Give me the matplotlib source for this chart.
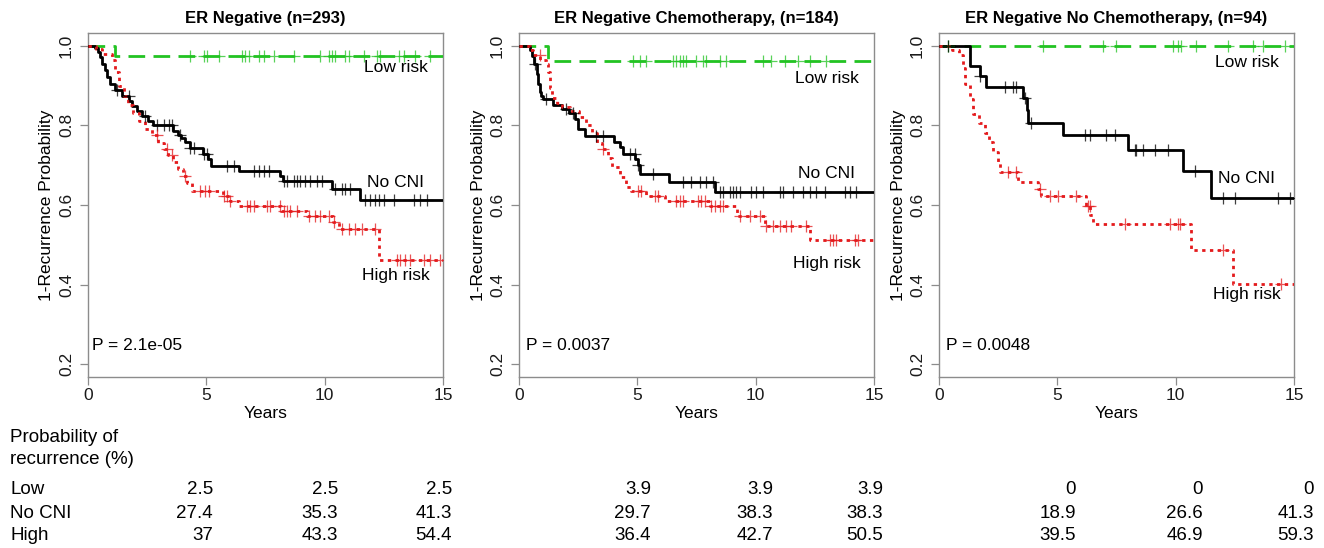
import numpy as np
import matplotlib
matplotlib.use("Agg")
import matplotlib.pyplot as plt

plt.rcParams['font.family'] = ['Liberation Sans', 'DejaVu Sans']

# ---- ER negative, all patients (n=293) ----
p1_low_t = [1.15]
p1_low_s = [0.975]
p1_low_cens = [4.32, 4.89, 5.03, 5.52, 6.51, 6.65, 6.79, 7.21, 7.42, 7.84, 8.69, 9.81,
               10.17, 10.31, 10.45, 10.87, 11.01, 11.65, 12.21, 12.35, 13.12, 13.34, 13.83, 14.46]
p1_cni_t = [0.3, 0.42, 0.5, 0.6, 0.7, 0.8, 0.95, 1.15, 1.45, 1.75, 1.85, 2.05, 2.3, 2.55, 2.75,
            3.6, 3.8, 3.95, 4.1, 4.3, 4.85, 5.05, 5.2, 6.4, 8.1, 8.25, 10.3, 11.5]
p1_cni_s = [0.994, 0.985, 0.972, 0.955, 0.94, 0.922, 0.905, 0.89, 0.873, 0.862, 0.848, 0.836,
            0.823, 0.811, 0.8, 0.787, 0.776, 0.768, 0.757, 0.742, 0.728, 0.715, 0.698, 0.686,
            0.673, 0.661, 0.64, 0.612]
p1_cni_cens = [1.23, 1.72, 2.42, 2.92, 3.2, 3.41, 3.55, 3.9, 4.32, 4.46, 4.89, 5.03, 5.87, 6.15,
               7.0, 7.21, 7.42, 7.63, 8.27, 8.41, 8.69, 8.83, 8.97, 9.18, 9.39, 9.68, 9.89,
               10.45, 10.73, 10.87, 11.08, 11.72, 11.93, 12.14, 12.28, 12.49, 12.92, 13.76,
               14.04, 14.32]
p1_high_t = [0.35, 0.6, 1.0, 1.15, 1.3, 1.5, 1.7, 1.9, 2.15, 2.4, 2.7, 2.95, 3.2, 3.4, 3.6, 3.8,
             4.0, 4.2, 4.4, 5.7, 6.0, 6.4, 8.15, 9.25, 10.35, 10.6, 12.3]
p1_high_s = [0.993, 0.98, 0.965, 0.935, 0.9, 0.875, 0.85, 0.83, 0.81, 0.79, 0.775, 0.755, 0.74,
             0.725, 0.708, 0.69, 0.672, 0.655, 0.636, 0.623, 0.611, 0.598, 0.586, 0.573, 0.557,
             0.54, 0.463]
p1_high_cens = [2.92, 3.34, 3.55, 4.11, 4.75, 4.96, 5.1, 5.73, 5.87, 6.01, 6.72, 6.86, 7.0, 7.56,
                7.7, 8.13, 8.27, 8.41, 8.55, 8.83, 9.32, 9.61, 9.81, 10.17, 10.38, 10.73, 11.01,
                11.3, 11.58, 12.14, 13.06, 13.2, 13.41, 13.62, 14.18, 14.46, 14.89]

# ---- ER negative, chemotherapy (n=184) ----
p2_low_t = [1.23]
p2_low_s = [0.961]
p2_low_cens = [4.82, 5.1, 5.38, 6.51, 6.65, 6.79, 6.93, 7.07, 7.49, 7.77, 7.92, 8.48, 8.76,
               10.31, 10.66, 11.23, 11.79, 12.28, 12.99]
p2_cni_t = [0.45, 0.55, 0.65, 0.75, 0.82, 0.88, 0.95, 1.0, 1.45, 1.8, 2.1, 2.35, 2.5, 2.8, 4.0,
            4.25, 4.4, 4.9, 5.03, 5.1, 6.35, 8.27]
p2_cni_s = [0.99, 0.975, 0.955, 0.93, 0.905, 0.885, 0.873, 0.865, 0.852, 0.84, 0.83, 0.815, 0.79,
            0.773, 0.757, 0.745, 0.728, 0.715, 0.7, 0.677, 0.657, 0.632]
p2_cni_cens = [0.66, 1.15, 2.0, 2.28, 3.27, 3.55, 4.68, 4.89, 5.03, 5.66, 6.93, 7.28, 7.63, 7.92,
               8.2, 8.48, 8.62, 8.9, 9.04, 9.18, 9.32, 9.82, 10.03, 10.31, 11.01, 11.15, 11.58,
               12.0, 12.28, 12.56, 12.92, 13.76, 13.97, 14.25]
p2_high_t = [0.45, 0.6, 0.9, 1.15, 1.22, 1.3, 1.4, 1.6, 1.8, 2.15, 2.55, 2.85, 3.1, 3.3, 3.5,
             3.75, 3.95, 4.25, 4.5, 4.75, 5.35, 6.15, 8.05, 9.2, 10.4, 12.28]
p2_high_s = [0.99, 0.978, 0.965, 0.955, 0.935, 0.895, 0.87, 0.855, 0.845, 0.835, 0.82, 0.8, 0.78,
             0.755, 0.74, 0.718, 0.695, 0.67, 0.645, 0.636, 0.623, 0.611, 0.598, 0.573, 0.548,
             0.511]
p2_high_cens = [0.87, 3.55, 5.03, 5.17, 5.73, 5.87, 6.65, 6.79, 6.93, 7.56, 7.7, 7.85, 8.13, 8.27,
                8.48, 8.62, 9.32, 9.75, 10.17, 10.45, 10.73, 11.01, 11.3, 11.51, 12.14, 13.13,
                13.27, 13.41, 14.18, 14.32]

# ---- ER negative, no chemotherapy (n=94) ----
p3_low_t = []
p3_low_s = []
p3_low_cens = [0.38, 4.39, 6.93, 7.49, 9.89, 10.1, 10.24, 10.87, 12.21, 13.27, 13.69, 14.61]
p3_cni_t = [1.3, 1.72, 2.0, 3.55, 3.7, 3.78, 5.22, 7.99, 10.31, 11.51]
p3_cni_s = [0.948, 0.923, 0.897, 0.869, 0.838, 0.807, 0.777, 0.738, 0.686, 0.617]
p3_cni_cens = [0.38, 1.72, 2.77, 3.13, 3.27, 3.62, 3.9, 6.15, 6.37, 7.07, 7.42, 8.27, 8.34, 8.62,
               9.11, 9.68, 10.8, 12.0, 12.49, 14.32, 14.82]
p3_high_t = [0.55, 0.85, 1.0, 1.1, 1.3, 1.45, 1.7, 1.95, 2.1, 2.3, 2.5, 2.58, 3.35, 4.2, 4.3, 6.2,
             6.4, 6.5, 10.65, 12.42]
p3_high_s = [0.99, 0.978, 0.945, 0.905, 0.865, 0.828, 0.805, 0.782, 0.757, 0.732, 0.707, 0.682,
             0.657, 0.64, 0.623, 0.598, 0.575, 0.5525, 0.486, 0.4025]
p3_high_cens = [2.92, 3.27, 4.25, 4.68, 5.03, 5.8, 6.3, 6.37, 7.85, 9.75, 10.1, 10.17, 12.0, 14.47]

titles = ["ER Negative (n=293)", "ER Negative Chemotherapy, (n=184)",
          "ER Negative No Chemotherapy, (n=94)"]
p_values = ["P = 2.1e-05", "P = 0.0037", "P = 0.0048"]

# probability of recurrence (%) at 5, 10, 15 years
row_names = ["Low", "No CNI", "High"]
rec_low = [[2.5, 2.5, 2.5], [3.9, 3.9, 3.9], [0, 0, 0]]
rec_cni = [[27.4, 35.3, 41.3], [29.7, 38.3, 38.3], [18.9, 26.6, 41.3]]
rec_high = [[37, 43.3, 54.4], [36.4, 42.7, 50.5], [39.5, 46.9, 59.3]]

GREEN = '#22c322'
RED = '#e41a1c'
BLACK = '#000000'
FRAME = '#8c8c8c'

W, H = 1324, 548
fig = plt.figure(figsize=(W / 100, H / 100), dpi=100)


def px(x, y):
    return x / W, 1 - y / H


def km(ax, t, s, cens, color, ls):
    tt = np.r_[0.0, t, 15.0]
    ss = np.r_[1.0, s, s[-1] if len(s) else 1.0]
    ax.step(tt, ss, where='post', color=color, ls=ls, lw=2.0, zorder=3)
    # censoring ticks sit on the curve
    idx = np.searchsorted(tt, cens, side='right') - 1
    ax.plot(cens, ss[idx], ls='none', marker='+', ms=9, mew=0.9, color=color,
            alpha=0.75, zorder=4)


curves = [
    [(p1_low_t, p1_low_s, p1_low_cens), (p1_cni_t, p1_cni_s, p1_cni_cens),
     (p1_high_t, p1_high_s, p1_high_cens)],
    [(p2_low_t, p2_low_s, p2_low_cens), (p2_cni_t, p2_cni_s, p2_cni_cens),
     (p2_high_t, p2_high_s, p2_high_cens)],
    [(p3_low_t, p3_low_s, p3_low_cens), (p3_cni_t, p3_cni_s, p3_cni_cens),
     (p3_high_t, p3_high_s, p3_high_cens)],
]
styles = [(GREEN, (0, (6, 3))), (BLACK, '-'), (RED, (0, (1.2, 1.6)))]

lefts = [88, 519, 939]
label_y = [(0.945, 0.6575, 0.4225), (0.9175, 0.68, 0.4525), (0.9575, 0.6675, 0.375)]
p_x = [0.17, 0.3, 0.3]
col_right = [[213, 338, 452], [651, 773, 883], [1076, 1203, 1314]]

for k in range(3):
    l = lefts[k]
    ax = fig.add_axes([l / W, 1 - 377 / H, 355 / W, 344 / H])
    for (t, s, c), (col, ls) in zip(curves[k], styles):
        km(ax, np.array(t), np.array(s), np.array(c), col, ls)
    ax.set_xlim(0, 15)
    ax.set_ylim(0.168, 1.032)
    ax.set_xticks([0, 5, 10, 15])
    ax.set_yticks([0.2, 0.4, 0.6, 0.8, 1.0])
    ax.set_yticklabels(['0.2', '0.4', '0.6', '0.8', '1.0'], rotation=90, va='center')
    ax.tick_params(length=6, width=0.9, color=FRAME, labelsize=12.5, labelcolor='#1a1a1a')
    ax.tick_params(axis='x', pad=2)
    ax.tick_params(axis='y', pad=4)
    for sp in ax.spines.values():
        sp.set_color(FRAME)
        sp.set_linewidth(1.0)

    ly = label_y[k]
    ax.text(13, ly[0], "Low risk", ha='center', va='center', fontsize=12.5)
    ax.text(13, ly[1], "No CNI", ha='center', va='center', fontsize=12.5)
    ax.text(13, ly[2], "High risk", ha='center', va='center', fontsize=12.5)
    ax.text(p_x[k], 0.2475, p_values[k], ha='left', va='center', fontsize=12.5)

    fig.text(*px(l + 177.5, 18), titles[k], ha='center', va='center',
             fontsize=12, fontweight='bold')
    fig.text(*px(l + 177.5, 414), "Years", ha='center', va='center', fontsize=12.5)
    fig.text(*px(l - 41, 205), "1-Recurrence Probability", ha='center', va='center',
             rotation=90, fontsize=12.5)

    for j in range(3):
        for vals, y in zip((rec_low, rec_cni, rec_high), (490, 513, 535)):
            fig.text(*px(col_right[k][j], y), '%g' % vals[k][j], ha='right', va='center',
                     fontsize=13.5)

fig.text(*px(10, 438), "Probability of", ha='left', va='center', fontsize=13.5)
fig.text(*px(10, 459), "recurrence (%)", ha='left', va='center', fontsize=13.5)
for name, y in zip(row_names, (490, 513, 535)):
    fig.text(*px(10, y), name, ha='left', va='center', fontsize=13.5)

fig.savefig("out.png", dpi=100)
